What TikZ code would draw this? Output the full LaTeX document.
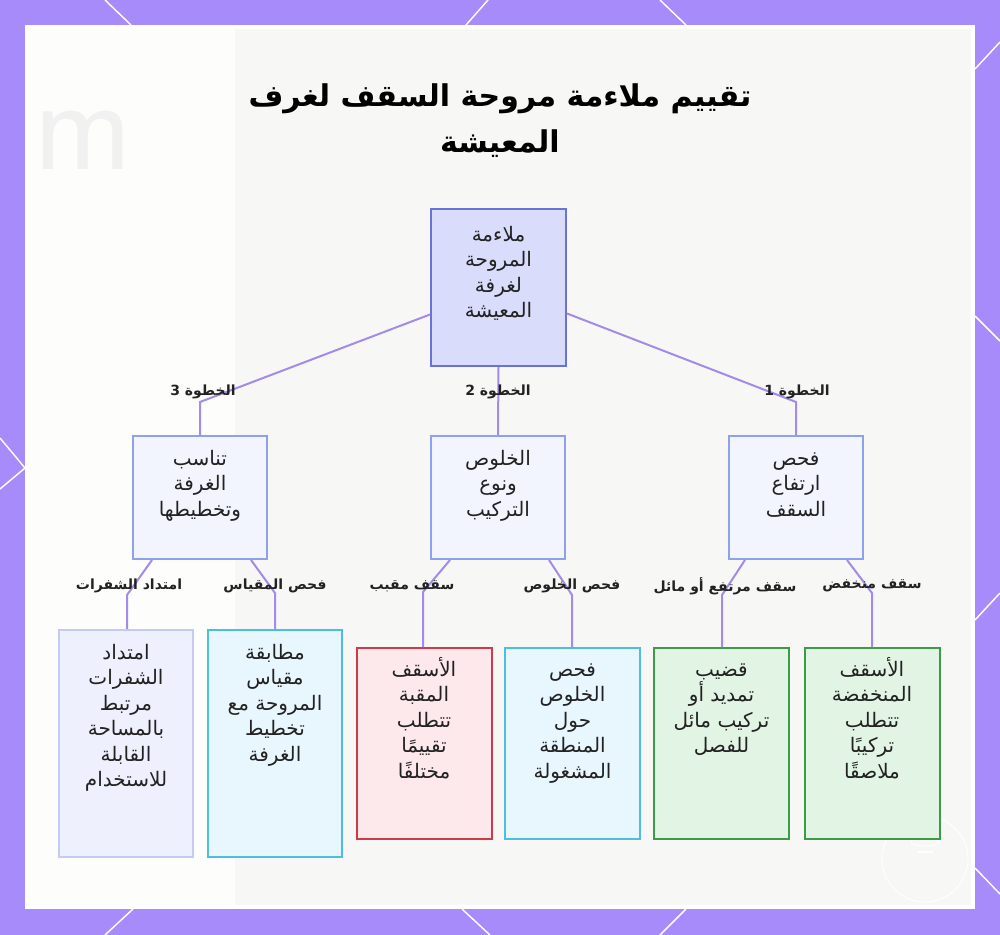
\documentclass[tikz,border=0pt]{standalone}
\usepackage{fontspec}
\setmainfont{DejaVu Sans}
\newfontfamily\arabicfont[Script=Arabic]{DejaVu Sans}
\TeXXeTstate=1
\newcommand{\ar}[1]{\beginR #1\endR}
\newcommand{\firstl}{\rule{0pt}{15pt}}
\usetikzlibrary{calc}
\definecolor{bgpurple}{HTML}{A78BFA}
\definecolor{panelgray}{HTML}{F7F7F6}
\definecolor{edgecol}{HTML}{A58BE8}
\definecolor{rootfill}{HTML}{D9DCFB}
\definecolor{rootdraw}{HTML}{6A72D8}
\definecolor{midfill}{HTML}{F3F5FE}
\definecolor{middraw}{HTML}{8FA0EC}
\definecolor{lavfill}{HTML}{EEF0FE}
\definecolor{lavdraw}{HTML}{C4CAF6}
\definecolor{cyanfill}{HTML}{E8F6FD}
\definecolor{cyandraw}{HTML}{4DBDE0}
\definecolor{redfill}{HTML}{FDE8EC}
\definecolor{reddraw}{HTML}{D0394A}
\definecolor{greenfill}{HTML}{E2F4E4}
\definecolor{greendraw}{HTML}{3C9B4B}
\definecolor{txtcol}{HTML}{222222}
\tikzset{
  deco/.style={white, line width=1.1pt},
  edge/.style={edgecol, line width=1.5pt},
  boxbase/.style={rectangle, line width=1.5pt, inner sep=0pt},
  rootbox/.style={boxbase, fill=rootfill, draw=rootdraw, minimum width=101.25pt, minimum height=117.75pt},
  midbox/.style={boxbase, fill=midfill, draw=middraw, minimum width=100.5pt, minimum height=92.25pt},
  tallbox/.style={boxbase, minimum width=100.5pt, minimum height=170.25pt},
  shortbox/.style={boxbase, minimum width=101.25pt, minimum height=143.25pt},
  lavbox/.style={tallbox, fill=lavfill, draw=lavdraw},
  cyantall/.style={tallbox, fill=cyanfill, draw=cyandraw},
  redbox/.style={shortbox, fill=redfill, draw=reddraw},
  cyanshort/.style={shortbox, fill=cyanfill, draw=cyandraw},
  greenbox/.style={shortbox, fill=greenfill, draw=greendraw},
  boxtext/.style={anchor=north, inner sep=0pt, align=center, text=txtcol,
    font=\arabicfont\fontsize{15}{19.1}\selectfont},
  lbl/.style={inner sep=0pt, text=txtcol, font=\arabicfont\bfseries\fontsize{10.5}{12}\selectfont},
  titletext/.style={align=center, inner sep=0pt, text=black,
    font=\arabicfont\bfseries\fontsize{22.5}{34.5}\selectfont},
}
\begin{document}
\begin{tikzpicture}[x=0.75pt,y=-0.75pt]
\useasboundingbox (0,0) rectangle (1000,935);
% background
\fill[bgpurple] (0,0) rectangle (1000,935);
\draw[deco] (105,0) -- (131,25);
\draw[deco] (488,0) -- (466,25);
\draw[deco] (660,0) -- (686,25);
\draw[deco] (105,935) -- (133,909);
\draw[deco] (490,935) -- (462,909);
\draw[deco] (660,935) -- (686,909);
\draw[deco] (0,438) -- (25,468) -- (0,489);
\draw[deco] (1000,42) -- (975,69);
\draw[deco] (1000,341) -- (975,316);
\draw[deco] (1000,593) -- (975,620);
\draw[deco] (1000,894) -- (975,868);
% panel
\fill[white] (25,25) rectangle (975,909);
\fill[panelgray] (29,29) rectangle (971,905);
\fill[white!70!panelgray] (29,29) rectangle (235,905);
\node[text={rgb,255:red,241;green,241;blue,241}, inner sep=0pt, font=\fontsize{100}{100}\selectfont\sffamily] (blurm) at (83,140) {m};
% watermark
\draw[white, line width=0.8pt, opacity=0.9] (925,859) circle [radius=43];
\draw[white, line width=0.8pt, opacity=0.9] (925,822) -- (925,836);
\draw[white, line width=0.8pt, opacity=0.9] (925,842) ellipse [x radius=14, y radius=4];
\draw[white, line width=0.8pt, opacity=0.9] (917,852) -- (933,852);

% title
\node[titletext] (title) at (500,121) {\ar{تقييم ملاءمة مروحة السقف لغرف}\\\ar{المعيشة}};

% bends
\coordinate (b3) at (200,402);
\coordinate (b1) at (796,402);
\coordinate (bb) at (127,595);
\coordinate (bg) at (275,593);
\coordinate (bv) at (423,592);
\coordinate (bc) at (572,595);
\coordinate (bh) at (722,595);
\coordinate (bl) at (872,593);

% boxes
\path (498.5,287.5) node[rootbox] (root) {};
\path (200,497.5) node[midbox] (s3) {};
\path (498,497.5) node[midbox] (s2) {};
\path (796,497.5) node[midbox] (s1) {};
\path (126,743.5) node[lavbox] (blades) {};
\path (275,743.5) node[cyantall] (gauge) {};
\path (424,743.5) node[redbox] (vault) {};
\path (572.5,743.5) node[cyanshort] (clear) {};
\path (721.5,743.5) node[greenbox] (high) {};
\path (872,743.5) node[greenbox] (low) {};

% edges
\draw[edge] ($(root.west)+(0,27)$) -- (b3) -- (s3.north);
\draw[edge] (root.south) -- (s2.north);
\draw[edge] ($(root.east)+(0,26)$) -- (b1) -- (s1.north);
\draw[edge] ($(s3.south)+(-48,0)$) -- (bb) -- (bb |- blades.north);
\draw[edge] ($(s3.south)+(51,0)$) -- (bg) -- (bg |- gauge.north);
\draw[edge] ($(s2.south)+(-48,0)$) -- (bv) -- (bv |- vault.north);
\draw[edge] ($(s2.south)+(51,0)$) -- (bc) -- (bc |- clear.north);
\draw[edge] ($(s1.south)+(-51,0)$) -- (bh) -- (bh |- high.north);
\draw[edge] ($(s1.south)+(51,0)$) -- (bl) -- (bl |- low.north);

% edge labels
\node[lbl] (l3) at (203,392) {\ar{الخطوة 3}};
\node[lbl] (l2) at (498,392) {\ar{الخطوة 2}};
\node[lbl] (l1) at (797,392) {\ar{الخطوة 1}};
\node[lbl] (lb) at (129,586) {\ar{امتداد الشفرات}};
\node[lbl] (lg) at (275,586) {\ar{فحص المقياس}};
\node[lbl] (lv) at (412,586) {\ar{سقف مقبب}};
\node[lbl] (lc) at (572,586) {\ar{فحص الخلوص}};
\node[lbl] (lh) at (725,586) {\ar{سقف مرتفع أو مائل}};
\node[lbl] (ll) at (872,586) {\ar{سقف منخفض}};

% box texts
\node[boxtext] (roott) at ($(root.north)+(0,13)$) {\firstl\ar{ملاءمة}\\\ar{المروحة}\\\ar{لغرفة}\\\ar{المعيشة}};
\node[boxtext] (s3t) at ($(s3.north)+(0,10)$) {\firstl\ar{تناسب}\\\ar{الغرفة}\\\ar{وتخطيطها}};
\node[boxtext] (s2t) at ($(s2.north)+(0,10)$) {\firstl\ar{الخلوص}\\\ar{ونوع}\\\ar{التركيب}};
\node[boxtext] (s1t) at ($(s1.north)+(0,10)$) {\firstl\ar{فحص}\\\ar{ارتفاع}\\\ar{السقف}};
\node[boxtext] (bladest) at ($(blades.north)+(0,10)$) {\firstl\ar{امتداد}\\\ar{الشفرات}\\\ar{مرتبط}\\\ar{بالمساحة}\\\ar{القابلة}\\\ar{للاستخدام}};
\node[boxtext] (gauget) at ($(gauge.north)+(0,10)$) {\firstl\ar{مطابقة}\\\ar{مقياس}\\\ar{المروحة مع}\\\ar{تخطيط}\\\ar{الغرفة}};
\node[boxtext] (vaultt) at ($(vault.north)+(0,9)$) {\firstl\ar{الأسقف}\\\ar{المقبة}\\\ar{تتطلب}\\\ar{تقييمًا}\\\ar{مختلفًا}};
\node[boxtext] (cleart) at ($(clear.north)+(0,9)$) {\firstl\ar{فحص}\\\ar{الخلوص}\\\ar{حول}\\\ar{المنطقة}\\\ar{المشغولة}};
\node[boxtext] (hight) at ($(high.north)+(0,9)$) {\firstl\ar{قضيب}\\\ar{تمديد أو}\\\ar{تركيب مائل}\\\ar{للفصل}};
\node[boxtext] (lowt) at ($(low.north)+(0,9)$) {\firstl\ar{الأسقف}\\\ar{المنخفضة}\\\ar{تتطلب}\\\ar{تركيبًا}\\\ar{ملاصقًا}};
\end{tikzpicture}
\end{document}
